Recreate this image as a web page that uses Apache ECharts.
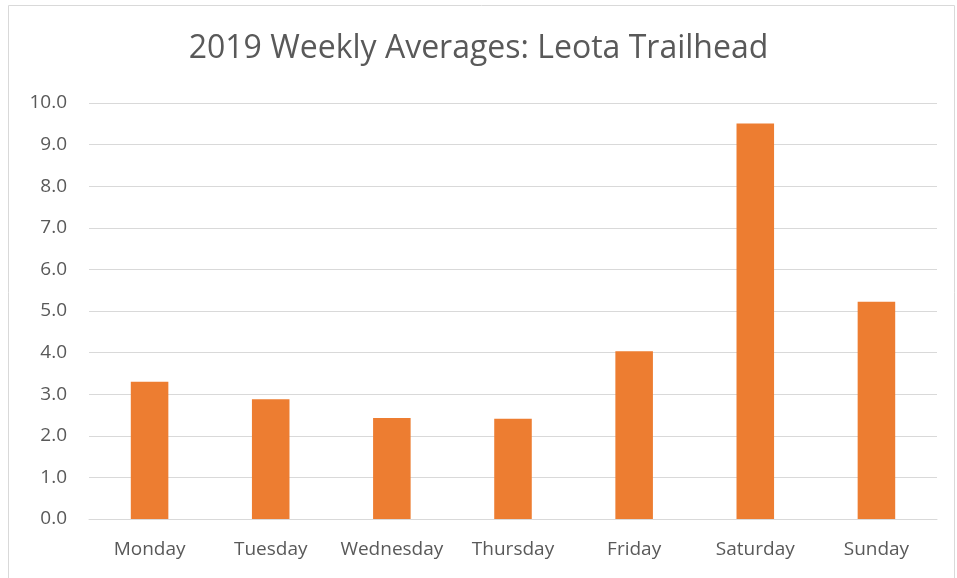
<!DOCTYPE html>
<html>
<head>
<meta charset="utf-8">
<script src="https://cdn.jsdelivr.net/npm/echarts@6/dist/echarts.min.js"></script>
<style>
  html, body { margin: 0; padding: 0; background: #fff; }
  #chart { width: 957px; height: 578px; }
</style>
</head>
<body>
<div id="chart"></div>
<script>
// 星期分类
var days = ['Monday', 'Tuesday', 'Wednesday', 'Thursday', 'Friday', 'Saturday', 'Sunday']
// 每日平均值
var averages = [3.3, 2.88, 2.43, 2.41, 4.03, 9.51, 5.22]
// Y轴刻度
var yTicks = [0, 1, 2, 3, 4, 5, 6, 7, 8, 9, 10]

var chart = echarts.init(document.getElementById('chart'))
chart.setOption({
  animation: false,
  textStyle: { fontFamily: 'Open Sans' },
  graphic: [
    {
      type: 'rect',
      shape: { x: 8.5, y: 5.5, width: 946, height: 580 },
      style: { fill: 'none', stroke: '#d9d9d9', lineWidth: 1 }
    }
  ],
  title: {
    text: '2019 Weekly Averages: Leota Trailhead',
    left: 'center',
    top: 28,
    textStyle: { fontSize: 32, fontWeight: 'normal', color: '#595959', fontFamily: 'Open Sans' }
  },
  grid: { left: 89, right: 20, top: 103, bottom: 59, containLabel: false },
  xAxis: {
    type: 'category',
    data: days,
    axisLine: { lineStyle: { color: '#d9d9d9', width: 1 } },
    axisTick: { show: false },
    axisLabel: { color: '#595959', fontSize: 19, margin: 21, interval: 0 }
  },
  yAxis: {
    type: 'value',
    min: yTicks[0],
    max: yTicks[yTicks.length - 1],
    interval: 1,
    axisLine: { show: false },
    axisTick: { show: false },
    splitLine: { lineStyle: { color: '#d9d9d9', width: 1 } },
    axisLabel: {
      color: '#595959',
      fontSize: 19,
      margin: 22,
      formatter: function (v) { return v.toFixed(1) }
    }
  },
  series: [
    {
      type: 'bar',
      data: averages,
      barWidth: '31%',
      itemStyle: { color: '#ED7D31' }
    }
  ]
})
</script>
</body>
</html>
